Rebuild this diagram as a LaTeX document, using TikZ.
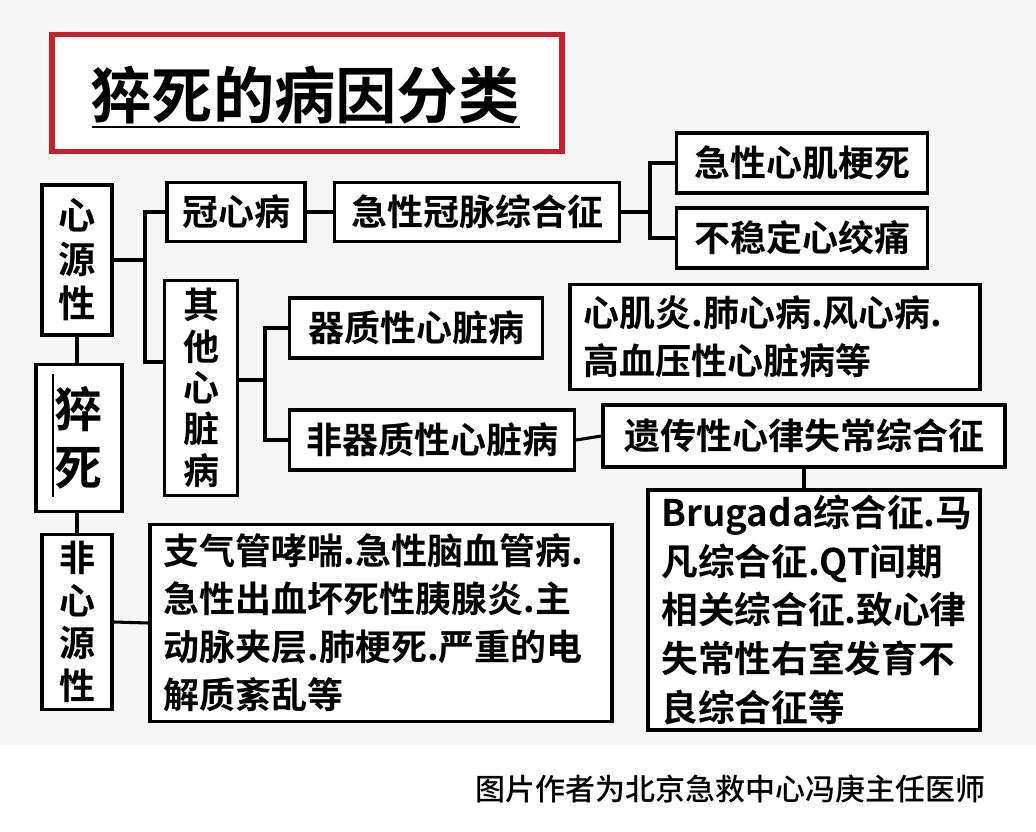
\documentclass[tikz,border=0pt]{standalone}
\usepackage{fontspec}
\setmainfont{Noto Sans CJK SC}
\newfontfamily\cjkb{Noto Sans CJK SC Bold}
\newfontfamily\cjkr{Noto Sans CJK SC Medium}
\definecolor{titlered}{HTML}{C8202A}
\begin{document}
\begin{tikzpicture}[x=0.75pt,y=-0.75pt,
  bx/.style={draw=black,line width=2.3pt,fill=white,inner sep=0pt,font=\cjkb\fontsize{27}{36}\selectfont},
  vbx/.style={bx,align=center,font=\cjkb\fontsize{27}{32}\selectfont},
  lbx/.style={bx,align=left,text width=#1,inner xsep=10pt},
  ln/.style={line width=2.3pt,black}]
\useasboundingbox (0,0) rectangle (1036,832);
\fill[white] (0,0) rectangle (1036,832);
\fill[gray!7] (0,0) rectangle (1036,745);
% title
\node[draw=titlered,line width=4pt,fill=white,minimum width=510*0.75pt,minimum height=117*0.75pt] (title) at (307,93) {};
\node[font=\cjkb\fontsize{46}{50}\selectfont] (tt) at (305,95) {猝死的病因分类};
\draw[line width=1.5pt] (92,127) -- (520,127);
% boxes
\node[vbx,minimum width=70*0.75pt,minimum height=150*0.75pt,font=\cjkb\fontsize{28}{33}\selectfont] (xy) at (77,260) {心\\源\\性};
\node[vbx,minimum width=86*0.75pt,minimum height=147*0.75pt,font=\cjkb\fontsize{36}{44}\selectfont] (cs) at (79,438) {猝\\死};
\draw[line width=1.5pt] (53,374) -- (53,497);
\node[vbx,minimum width=70*0.75pt,minimum height=175*0.75pt] (fx) at (77,622) {非\\心\\源\\性};
\node[bx,minimum width=138*0.75pt,minimum height=59*0.75pt] (gx) at (236,212) {冠心病};
\node[bx,minimum width=285*0.75pt,minimum height=59*0.75pt] (jx) at (477,212) {急性冠脉综合征};
\node[bx,minimum width=251*0.75pt,minimum height=60*0.75pt] (jm) at (802,163) {急性心肌梗死};
\node[bx,minimum width=251*0.75pt,minimum height=60*0.75pt] (bw) at (802,238) {不稳定心绞痛};
\node[vbx,minimum width=73*0.75pt,minimum height=215*0.75pt,font=\cjkb\fontsize{27}{31}\selectfont] (qt) at (201,388) {其\\他\\心\\脏\\病};
\node[bx,minimum width=253*0.75pt,minimum height=60*0.75pt] (qz) at (416,328) {器质性心脏病};
\node[lbx=410*0.75pt-20pt,minimum height=105*0.75pt] (xj) at (775,337) {心肌炎.肺心病.风心病.\\高血压性心脏病等};
\node[bx,minimum width=285*0.75pt,minimum height=60*0.75pt] (fq) at (432,440) {非器质性心脏病};
\node[bx,minimum width=402*0.75pt,minimum height=62*0.75pt] (yc) at (804,436) {遗传性心律失常综合征};
\node[lbx=332*0.75pt-20pt,minimum height=240*0.75pt,font=\cjkb\fontsize{27.5}{36.5}\selectfont] (br) at (814,610) {Brugada综合征.马\\凡综合征.QT间期\\相关综合征.致心律\\失常性右室发育不\\良综合征等};
\node[lbx=462*0.75pt-20pt,minimum height=197*0.75pt] (zq) at (381,623) {支气管哮喘.急性脑血管病.\\急性出血坏死性胰腺炎.主\\动脉夹层.肺梗死.严重的电\\解质紊乱等};
% connectors
\coordinate (j1) at (145,260);
\draw[ln] (xy.east |- j1) -- (j1);
\draw[ln] (gx.west) -| (j1) |- (qt.west |- 0,362);
\coordinate (j2) at (265,380);
\draw[ln] (qt.east |- j2) -- (j2);
\draw[ln] (qz.west) -| (j2) |- (fq.west);
\coordinate (j3) at (650,212);
\draw[ln] (gx.east) -- (jx.west);
\draw[ln] (jx.east) -- (j3);
\draw[ln] (jm.west) -| (j3) |- (bw.west);
\draw[ln] (fq.east) -- (yc.west);
\draw[ln] (yc.south) -- (yc.south |- br.north);
\draw[ln] (xy.south) -- (xy.south |- cs.north);
\draw[ln] (cs.south -| fx.north) -- (fx.north);
\draw[ln] (fx.east) -- (zq.west);
\node[font=\cjkr\fontsize{22.5}{25}\selectfont] (cap) at (730,789) {图片作者为北京急救中心冯庚主任医师};
\end{tikzpicture}
\end{document}
